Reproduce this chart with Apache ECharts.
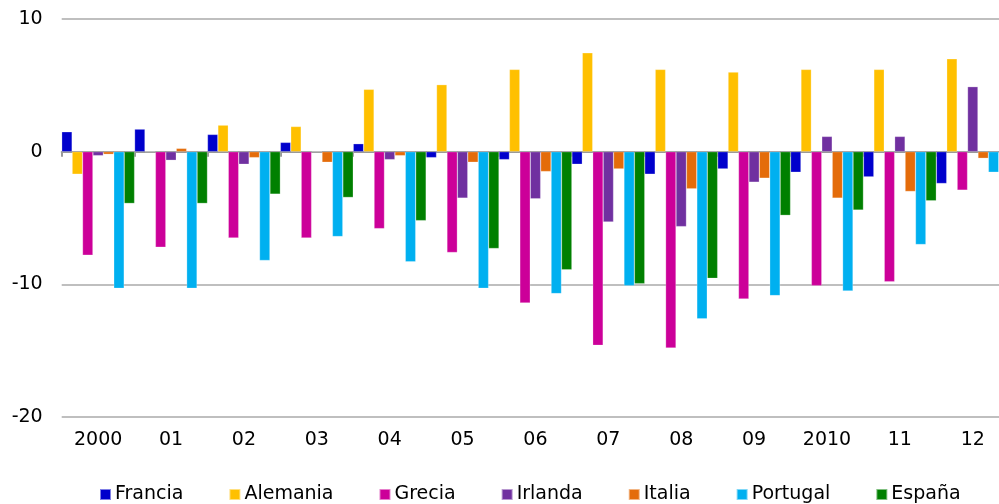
<!DOCTYPE html>
<html>
<head>
<meta charset="utf-8">
<script src="https://cdn.jsdelivr.net/npm/echarts@6/dist/echarts.min.js"></script>
<style>html,body{margin:0;padding:0;background:#fff}#c{width:999px;height:504px}</style>
</head>
<body>
<div id="c"></div>
<script>
const categories = ['2000','01','02','03','04','05','06','07','08','09','2010','11','12'];
const yTicks = [-20, -10, 0, 10];
const francia  = [1.5, 1.7, 1.3, 0.7, 0.6, -0.45, -0.6, -0.95, -1.7, -1.3, -1.55, -1.9, -2.4];
const alemania = [-1.7, 0, 2.0, 1.9, 4.7, 5.05, 6.2, 7.45, 6.2, 6.0, 6.2, 6.2, 7.0];
const grecia   = [-7.8, -7.2, -6.5, -6.5, -5.8, -7.6, -11.4, -14.6, -14.8, -11.1, -10.1, -9.8, -2.9];
const irlanda  = [-0.3, -0.65, -0.95, 0, -0.6, -3.5, -3.55, -5.3, -5.65, -2.3, 1.15, 1.15, 4.9];
const italia   = [-0.2, 0.25, -0.45, -0.8, -0.3, -0.8, -1.5, -1.3, -2.8, -2.0, -3.5, -3.0, -0.5];
const portugal = [-10.3, -10.3, -8.2, -6.4, -8.3, -10.3, -10.7, -10.1, -12.6, -10.85, -10.5, -7.0, -1.55];
const espana   = [-3.9, -3.9, -3.2, -3.45, -5.2, -7.3, -8.9, -9.95, -9.55, -4.8, -4.4, -3.7, -3.6];

const names = ['Francia','Alemania','Grecia','Irlanda','Italia','Portugal','España'];
const datas = [francia, alemania, grecia, irlanda, italia, portugal, espana];
const colors = ['#0000CC','#FFC000','#CC0099','#7030A0','#E46C0A','#00B0F0','#008000'];
const font = 'DejaVu Sans';

const chart = echarts.init(document.getElementById('c'), null, {renderer:'canvas'});
chart.setOption({
  animation: false,
  color: colors,
  grid: {left: 61.7, width: 947.5, top: 19, height: 398, containLabel: false, outerBoundsMode: 'none'},
  legend: {
    left: 99, top: 485, padding: 0, itemWidth: 11, itemHeight: 11, itemGap: 45,
    icon: 'rect',
    textStyle: {fontFamily: font, fontSize: 19, color: '#000', padding: [0,0,0,-1]},
    data: names
  },
  xAxis: [{
    type: 'category', data: categories, position: 'bottom',
    axisLine: {show: false, onZero: false}, axisTick: {show: false},
    axisLabel: {fontFamily: font, fontSize: 19, color: '#000', margin: 14},
    splitLine: {show: false}
  },{
    type: 'category', data: categories, position: 'bottom',
    axisLine: {show: true, onZero: true, lineStyle: {color: '#999', width: 2}},
    axisTick: {show: true, length: 5, lineStyle: {color: '#999', width: 2}},
    axisLabel: {show: false}, splitLine: {show: false}
  }],
  yAxis: {
    type: 'value', min: yTicks[0], max: yTicks[yTicks.length-1], interval: 10,
    axisLine: {show: false}, axisTick: {show: false},
    axisLabel: {fontFamily: font, fontSize: 19, color: '#000', margin: 19},
    splitLine: {lineStyle: {color: '#BFBFBF', width: 2}}
  },
  series: names.map((n, i) => ({
    name: n, type: 'bar', data: datas[i], xAxisIndex: 0,
    barGap: '0%', barCategoryGap: '0%',
    itemStyle: {color: colors[i], borderColor: 'rgba(255,255,255,0.5)', borderWidth: 0.5}
  }))
});
</script>
</body>
</html>
